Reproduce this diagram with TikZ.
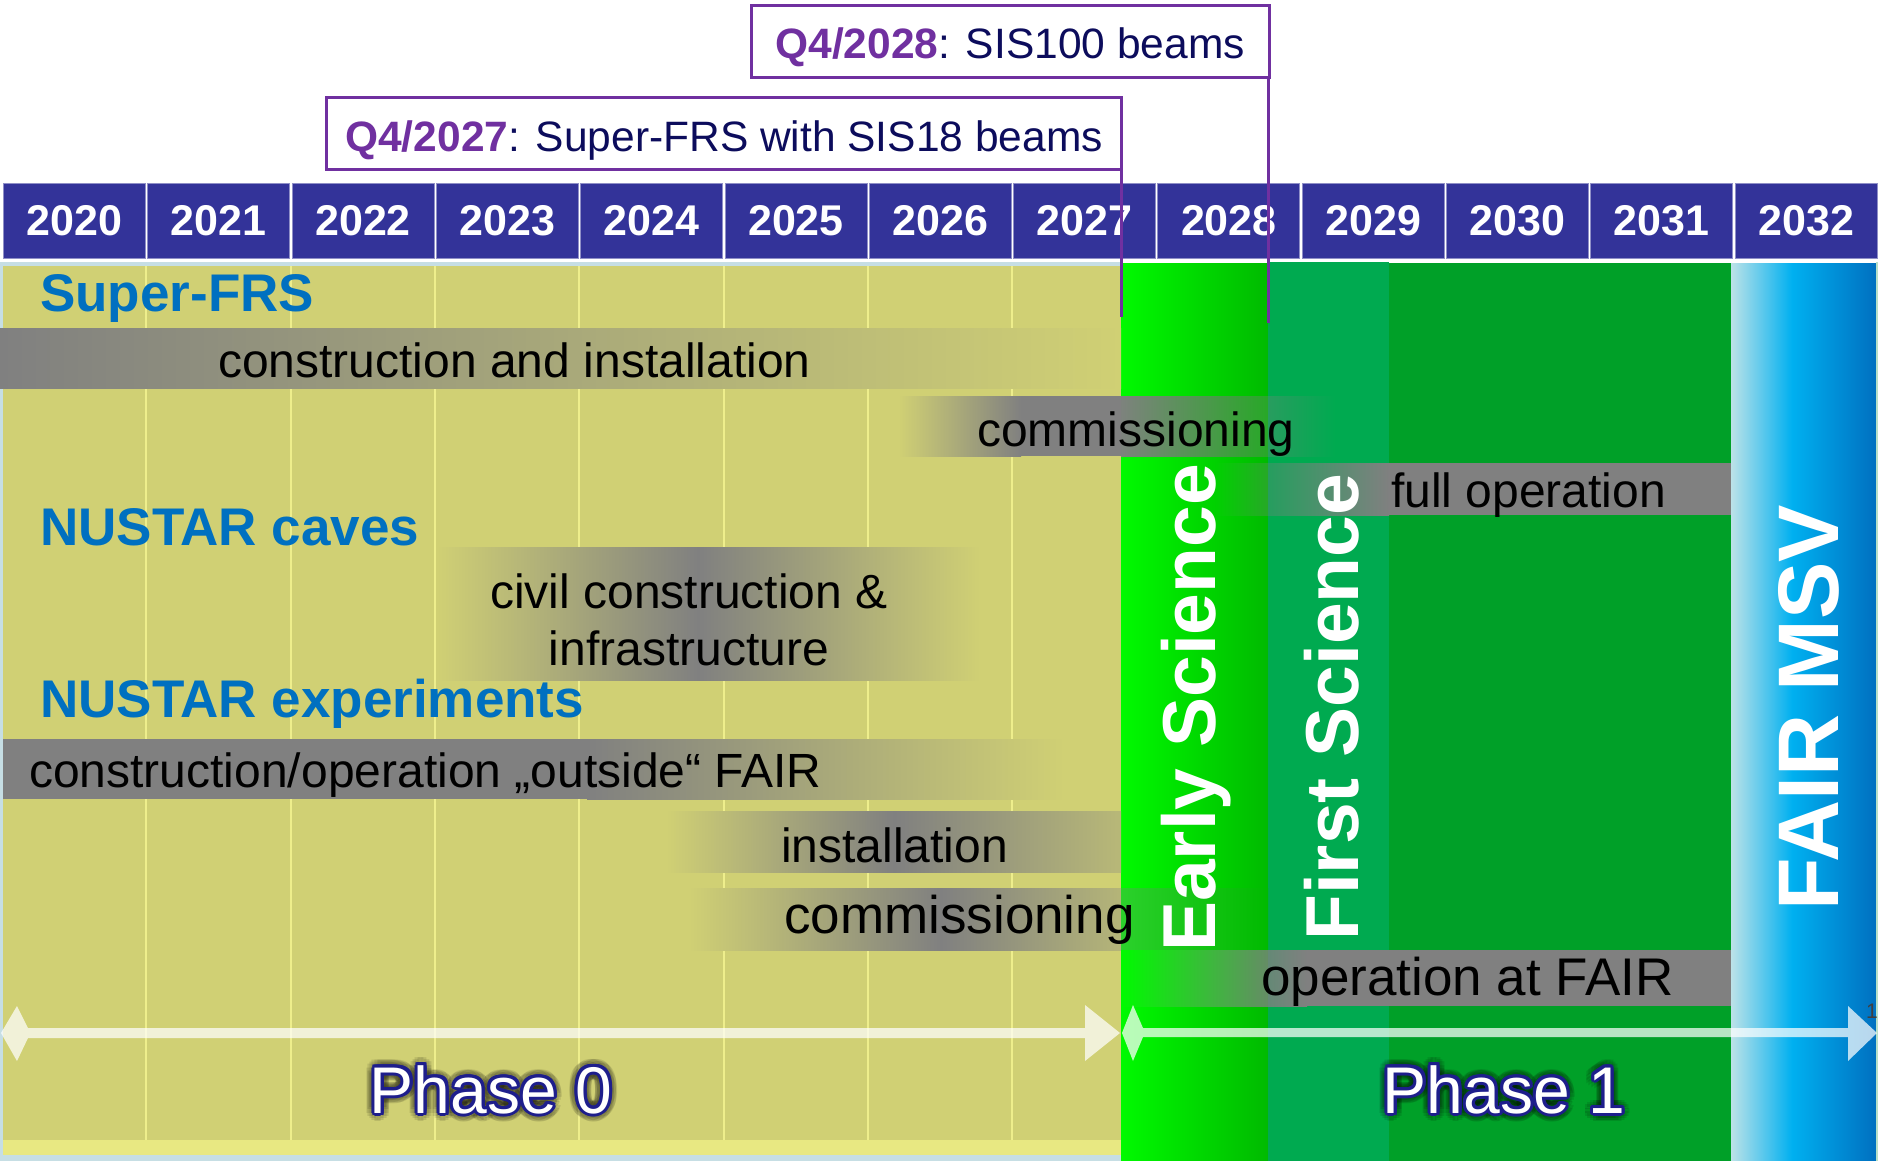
\documentclass[tikz,border=0pt]{standalone}
\usepackage{fontspec}
\setmainfont{Liberation Sans}

\definecolor{yearBlue}{RGB}{51,51,153}
\definecolor{markPurple}{RGB}{112,48,160}
\definecolor{markNavy}{RGB}{12,12,92}
\definecolor{headBlue}{RGB}{0,112,192}
\definecolor{edgeBlue}{RGB}{198,222,228}
\definecolor{phaseZeroBg}{RGB}{208,208,116}
\definecolor{phaseZeroLow}{RGB}{232,232,130}
\definecolor{gridYellow}{RGB}{238,238,140}
\definecolor{earlyGreenA}{RGB}{0,250,0}
\definecolor{earlyGreenB}{RGB}{0,186,0}
\definecolor{firstGreen}{RGB}{0,170,80}
\definecolor{fullGreen}{RGB}{0,160,40}
\definecolor{msvLight}{RGB}{188,226,232}
\definecolor{msvMid}{RGB}{0,176,240}
\definecolor{msvDark}{RGB}{0,112,192}
\definecolor{edgeGreen}{RGB}{184,224,200}
\definecolor{barGray}{RGB}{128,128,128}
\definecolor{phaseBlue}{RGB}{30,30,140}
\colorlet{earlyMid}{earlyGreenA!36!earlyGreenB}

\begin{document}
\begin{tikzpicture}[x=1pt,y=-1pt,%%
  yearStyle/.style={fill=yearBlue,draw=yearBlue!55!white,line width=1pt,minimum width=142pt,minimum height=75pt,inner sep=0pt,text=white,font=\bfseries\fontsize{43}{48}\selectfont},%%
  markBox/.style={draw=markPurple,line width=3pt,fill=white,inner sep=0pt,text height=35pt,text depth=0pt,text=markNavy,font=\fontsize{42.5}{48}\selectfont},%%
  markLine/.style={draw=markPurple,line width=3pt},%%
  gridStyle/.style={draw=gridYellow,line width=2pt},%%
  groupStyle/.style={anchor=base west,inner sep=0pt,text=headBlue,font=\bfseries\fontsize{53}{60}\selectfont},%%
  taskStyle/.style={anchor=base west,inner sep=0pt,font=\fontsize{48}{57}\selectfont},%%
  bigTaskStyle/.style={taskStyle,font=\fontsize{53}{60}\selectfont},%%
  stageStyle/.style={anchor=base west,rotate=90,inner sep=0pt,text=white,font=\bfseries\fontsize{75}{80}\selectfont},%%
  phaseArrow/.style={fill=white,fill opacity=0.72},%%
  phaseText/.style={anchor=base,inner sep=0pt,font=\fontsize{66}{72}\selectfont}%%
]
\useasboundingbox (0,0) rectangle (1879,1161);
%%
\pgfmathsetmacro{\xlow}{3}     %% left edge of the year table
\pgfmathsetmacro{\cellw}{144.3} %% width of one year
\pgfmathsetmacro{\xgreen}{1121} %% end of phase 0
\pgfmathsetmacro{\xfirst}{1268}
\pgfmathsetmacro{\xfull}{1389}
\pgfmathsetmacro{\xmsv}{1731}
\pgfmathsetmacro{\xend}{1876}
%%
%% Phase 0 background with the year grid.
\fill[edgeBlue] (0,262) rectangle (\xgreen+2,1161);
\fill[phaseZeroBg] (3,266) rectangle (\xgreen,1140);
\fill[phaseZeroLow] (3,1140) rectangle (\xgreen,1155);
\foreach \i in {1,...,7}
  \draw[gridStyle] ({\xlow+\cellw*\i-1},266) -- ({\xlow+\cellw*\i-1},1140);
%%
%% Phase 1 columns and the MSV column.
\shade[left color=earlyGreenA,right color=earlyGreenB] (\xgreen,263) rectangle (\xfirst,1161);
\fill[firstGreen] (\xfirst,262) rectangle (\xfull,1161);
\fill[fullGreen] (\xfull,263) rectangle (\xmsv,1161);
\shade[left color=msvLight,right color=msvMid] (\xmsv,263) rectangle (1792,1161);
\shade[left color=msvMid,right color=msvDark] (1792,263) rectangle (\xend,1161);
\fill[edgeGreen] (\xend,262) rectangle (1878,1161);
%%
%% Grey activity bars, blended into the column colours.  Must shade
%% before the texts.
%% construction and installation
\shade[left color=barGray,right color=phaseZeroBg] (0,328) rectangle (\xgreen,388);
%% commissioning of the Super-FRS
\shade[left color=phaseZeroBg,right color=barGray] (899,396) rectangle (1021,456);
\fill[barGray] (1021,396) rectangle (\xgreen,456);
\shade[left color=barGray!98!earlyGreenA,right color=barGray!31!earlyGreenB] (\xgreen,396) rectangle (\xfirst,456);
\shade[left color=barGray!31!firstGreen,right color=firstGreen] (\xfirst,396) rectangle (1335,456);
%% full operation
\shade[left color=earlyMid,right color=barGray!30!earlyGreenB] (1215,463) rectangle (\xfirst,515);
\shade[left color=barGray!30!firstGreen,right color=barGray] (\xfirst,463) rectangle (\xfull,515);
\fill[barGray] (\xfull,463) rectangle (\xmsv,515);
%% civil construction
\shade[left color=phaseZeroBg,right color=barGray] (437,547) rectangle (698,680);
\shade[left color=barGray,right color=phaseZeroBg] (698,547) rectangle (980,680);
%% construction/operation outside
\fill[barGray] (3,739) rectangle (587,799);
\shade[left color=barGray,right color=phaseZeroBg] (587,739) rectangle (1064,799);
%% installation
\shade[left color=phaseZeroBg,right color=barGray] (666,811) rectangle (894,872);
\shade[left color=barGray,right color=barGray!30!phaseZeroBg] (894,811) rectangle (\xgreen,872);
%% commissioning of the experiments
\shade[left color=phaseZeroBg,right color=barGray] (689,888) rectangle (941,950);
\shade[left color=barGray,right color=barGray!34!phaseZeroBg] (941,888) rectangle (\xgreen,950);
\shade[left color=barGray!34!earlyGreenA,right color=earlyGreenB] (\xgreen,888) rectangle (\xfirst,950);
%% operation at FAIR
\shade[left color=earlyGreenA,right color=barGray!79!earlyGreenB] (\xgreen,950) rectangle (\xfirst,1006);
\shade[left color=barGray!79!firstGreen,right color=barGray] (\xfirst,950) rectangle (1307,1006);
\fill[barGray] (1307,950) rectangle (\xmsv,1006);
%%
\node[stageStyle] (early) at (1215,952) {Early Science};
\node[stageStyle] (first) at (1358,941) {First Science};
\node[stageStyle,font=\bfseries\fontsize{86}{90}\selectfont] (msv) at (1838,911) {FAIR MSV};
%%
%% The year row.
\foreach \yr [count=\i from 0] in {2020,...,2032}
  \node[yearStyle] (year\yr) at ({\xlow+\cellw*\i+71.5},221) {\yr};
%%
%% Groups and their activities.
\node[groupStyle] (sfrsHead) at (40,311) {Super-FRS};
\node[taskStyle] (sfrsBuild) at (218,377) {construction and installation};
\node[taskStyle] (sfrsComm) at (977,446) {commissioning};
\node[taskStyle] (sfrsFull) at (1391,507) {full operation};
\node[groupStyle] (cavesHead) at (40,545) {NUSTAR caves};
\node[taskStyle,anchor=base] (cavesCivil) at (689,608) {civil construction \&};
\node[taskStyle,anchor=base] (cavesInfra) at (689,665) {infrastructure};
\node[groupStyle] (expHead) at (40,717) {NUSTAR experiments};
\node[taskStyle] (expOutside) at (29,787) {construction/operation „outside“ FAIR};
\node[taskStyle] (expInstall) at (781,862) {installation};
\node[bigTaskStyle] (expComm) at (784,933) {commissioning};
\node[bigTaskStyle] (expFair) at (1261,995) {operation at FAIR};
%%
%% Phase arrows.
\fill[phaseArrow] (1,1033) -- (17,1006) -- (28,1028) -- (1085,1028) -- (1085,1005)
  -- (1120,1033) -- (1085,1061) -- (1085,1038) -- (28,1038) -- (17,1061) -- cycle;
\fill[phaseArrow] (1122,1033) -- (1133,1005) -- (1143,1028) -- (1848,1028) -- (1848,1006)
  -- (1877,1033) -- (1848,1061) -- (1848,1037) -- (1143,1037) -- (1133,1061) -- cycle;
%%
%% Phase labels: soft halo, blue edge, white letters.
\coordinate (phase0) at (491,1113);
\coordinate (phase1) at (1504,1113);
\foreach \pos/\txt in {phase0/Phase 0,phase1/Phase 1} {
  \foreach \ang in {0,22.5,...,337.5}
    \path (\pos) ++(\ang:8) node[phaseText,text=black,text opacity=0.1] {\txt};
  \foreach \ang in {0,22.5,...,337.5}
    \path (\pos) ++(\ang:3) node[phaseText,text=phaseBlue] {\txt};
  \node[phaseText,text=white] (\pos label) at (\pos) {\txt};
}
%%
%% Page number, cut at the right edge.
\begin{scope}
  \clip (1840,990) rectangle (\xend,1030);
  \node[anchor=base west,inner sep=0pt,text=black!75,font=\fontsize{21}{24}\selectfont] (pageNo) at (1866,1018) {15};
\end{scope}
%%
%% Milestones.
\node[markBox,minimum width=795pt,minimum height=72pt] (q27) at (724,134)
  {\textcolor{markPurple}{\bfseries Q4/2027}: Super-FRS with SIS18 beams};
\node[markBox,minimum width=518pt,minimum height=72pt] (q28) at (1010,41.5)
  {\textcolor{markPurple}{\bfseries Q4/2028}: SIS100 beams};
\coordinate (q27tick) at (1121,317);
\coordinate (q28tick) at (1268,323);
\draw[markLine] (q27.south -| q27tick) -- (q27tick);
\draw[markLine] (q28.south -| q28tick) -- (q28tick);
\end{tikzpicture}
\end{document}
